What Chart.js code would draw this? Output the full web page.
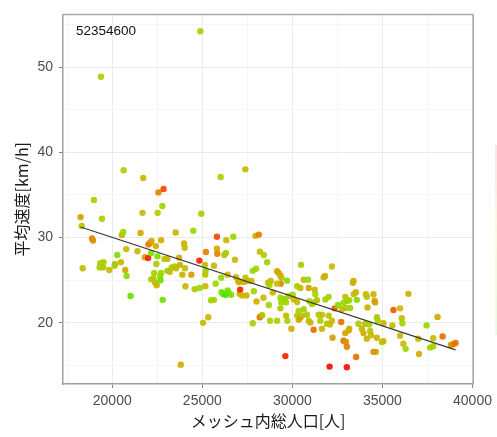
<!DOCTYPE html>
<html lang="ja">
<head>
<meta charset="utf-8">
<title>平均速度 vs メッシュ内総人口</title>
<script src="https://cdn.jsdelivr.net/npm/chart.js@4/dist/chart.umd.min.js"></script>
<style>
  html, body { margin: 0; padding: 0; background: #fff; }
  #wrap { width: 497px; height: 437px; position: relative; }
</style>
</head>
<body>
<div id="wrap"><canvas id="chart"></canvas></div>
<script>
/* ─── Data ─── */
const PANEL_LABEL = '52354600';
const X_TITLE = 'メッシュ内総人口[人]';
const Y_TITLE = '平均速度[km/h]';

const xMajorTicks = [20000, 25000, 30000, 35000, 40000];
const xMinorTicks = [17500, 22500, 27500, 32500, 37500];
const yMajorTicks = [20, 30, 40, 50];
const yMinorTicks = [15, 25, 35, 45, 55];

// population per mesh
const population = [
  24890, 19370, 20630, 21720, 27390, 26020, 18980, 22560, 22850, 22780, 21680, 22520, 24940, 18240, 19430,
  18303, 18358, 18875, 18930, 19336, 19520, 19300, 19500, 19834, 20130, 20150, 20277, 20480, 20535, 20610,
  20720, 20775, 20795, 21015, 21400, 21570, 21810, 21990, 22010, 22100, 22180, 22160, 22160, 22290, 22325,
  22380, 22470, 22420, 22450, 22510, 22660, 22675, 22710, 22800, 22710, 22900, 23060, 23060, 23190, 23300,
  23470, 23540, 23520, 23710, 23760, 23800, 23890, 23985, 24020, 24040, 24060, 24390, 24500, 24575, 24835,
  24850, 25040, 25150, 25165, 25185, 25165, 25200, 25330, 25480, 25650, 25650, 25740, 25810, 25810, 25830,
  26050, 26070, 26160, 26310, 26220, 26310, 26330, 26400, 26400, 26460, 26600, 26720, 26810, 26880, 26990,
  27030, 27070, 27100, 27510, 27300, 27200, 27400, 27450,
  27952, 28137, 28192, 28413, 28600, 27800, 27990, 27730, 27860, 28010, 28395, 28285, 27800, 28190, 28320,
  28650, 28727, 28800, 28690, 28910, 28760, 29150, 29240, 29335, 29390, 29350, 29150, 29150, 29335, 29390,
  29335, 29575, 29650, 29650, 29725, 29610, 29705, 29800, 30020, 29945, 30075, 30260, 30260, 30445, 30260,
  30350, 30445, 30535, 30350, 30480, 30630, 30630, 30810, 30905, 30995, 30870, 30905, 30940, 31090, 31180,
  31180, 31235, 31275, 31365, 31460, 31550, 31640, 31640, 31735, 31810, 31830, 31920, 32010, 32010, 32085,
  32195, 32195, 32230, 32345, 32530, 32710, 32750, 32840, 32935, 32970, 32935, 32840, 32970, 33025, 33120,
  33155, 33025, 32066, 33060, 33155, 33210, 33360, 33395, 33525, 33410, 33540, 33580, 33670, 33856, 33950,
  34040, 34130, 34080, 34130, 34170, 34260, 34320, 34370, 34500, 34560, 34595, 34500, 34630, 34690, 34740,
  34690, 34965, 35055, 35055, 35610, 35980, 36070, 36110, 35555, 35980, 36290, 36440, 36160, 36990, 37030,
  37450, 37640, 37820, 37820, 38060, 38340, 38800, 38930, 39060
];

// average speed [km/h]
const speed = [
  54.2, 48.85, 37.9, 37.0, 38.0, 37.1, 34.4, 35.3, 35.7, 33.7, 32.9, 32.9, 32.8, 32.4, 32.2,
  31.35, 26.4, 29.9, 29.65, 27.0, 27.1, 26.5, 26.5, 26.2, 26.7, 26.9, 27.96, 27.1, 30.3, 30.65,
  26.2, 28.65, 25.5, 23.15, 28.4, 30.55, 27.7, 27.6, 29.2, 29.4, 29.6, 28.2, 25.1, 25.2, 25.85,
  24.7, 24.4, 29.0, 26.9, 27.8, 25.5, 25.0, 25.85, 22.7, 29.7, 27.5, 27.5, 26.1, 26.0, 26.5,
  26.6, 26.4, 30.6, 27.65, 26.8, 15.1, 25.65, 29.3, 28.8, 26.4, 24.3, 25.65, 30.8, 23.95, 27.3,
  24.1, 20.0, 26.8, 25.65, 26.1, 24.3, 28.3, 20.65, 22.65, 22.7, 26.7, 24.6, 30.1, 28.7, 28.1,
  25.3, 23.6, 23.35, 23.3, 27.95, 28.2, 29.7, 25.65, 23.8, 23.5, 23.3, 30.1, 27.4, 25.35, 24.95,
  24.75, 23.4, 23.9, 24.9, 24.8, 23.2, 25.3, 23.2,
  30.2, 30.35, 28.35, 27.96, 27.1, 26.1, 26.35, 24.9, 23.7, 22.5, 22.95, 20.85, 19.95, 20.65, 20.9,
  24.7, 24.4, 24.9, 22.1, 23.55, 20.25, 26.05, 25.85, 25.55, 25.3, 24.6, 24.6, 20.25, 22.95, 22.4,
  21.7, 22.8, 22.4, 20.85, 20.25, 16.1, 24.95, 23.15, 23.3, 19.3, 22.75, 22.45, 24.3, 24.1, 20.85,
  20.35, 20.6, 20.85, 21.4, 26.8, 25.05, 21.6, 20.95, 20.25, 20.05, 25.05, 24.1, 22.55, 22.2, 22.35,
  19.2, 23.9, 23.35, 22.65, 20.95, 20.25, 20.95, 19.3, 25.35, 25.5, 22.75, 19.9, 20.85, 23.05, 19.8,
  26.6, 20.25, 18.25, 21.7, 22.1, 20.1, 21.6, 22.35, 23.05, 21.75, 18.8, 17.9, 17.75, 17.2, 19.1,
  19.3, 14.8, 14.87, 22.6, 22.65, 21.75, 24.7, 24.9, 23.6, 23.35, 16.0, 22.7, 19.9, 19.3, 18.8,
  19.9, 18.15, 23.35, 23.05, 21.8, 19.8, 19.05, 18.55, 23.35, 22.6, 22.4, 16.6, 16.6, 20.65, 20.25,
  18.25, 17.75, 17.85, 19.95, 21.5, 21.7, 20.55, 19.95, 19.7, 18.5, 16.95, 23.4, 17.55, 18.15, 16.35,
  19.7, 17.1, 17.25, 18.2, 20.7, 18.4, 17.4, 17.5, 17.65
];

// colour scale position (0 = green … 1 = red)
const colorLevel = [
  .3, .3, .3, .45, .45, .3, .3, .7, .85, .3, .45, .35, .3, .6, .3,
  .35, .45, .7, .65, .35, .3, .3, .35, .45, .3, .35, .2, .45, .5, .25,
  .55, .45, .2, .15, .45, .55, .6, .95, .7, .7, .55, .2, .3, .4, .3,
  .45, .5, .5, .35, .2, .25, .15, .3, .15, .5, .4, .45, .2, .45, .4,
  .3, .4, .5, .55, .5, .55, .5, .5, .45, .4, .45, .6, .25, .35, .95,
  .25, .45, .4, .4, .3, .45, .7, .45, .3, .3, .45, .25, .85, .55, .7,
  .25, .15, .15, .05, .4, .35, .45, .45, .2, .15, .2, .25, .45, .45, .45,
  .5, .5, .95, .45, .5, .45, .4, .5,
  .55, .7, .45, .3, .3, .25, .3, .45, .3, .5, .45, .5, .3, .75, .35,
  .4, .3, .45, .3, .45, .3, .55, .6, .5, .45, .7, .4, .3, .3, .25,
  .35, .2, .3, .45, .3, .95, .2, .45, .25, .5, .45, .45, .3, .45, .3,
  .55, .6, .4, .3, .35, .45, .3, .35, .4, .45, .25, .6, .3, .4, .3,
  .75, .45, .3, .35, .4, .35, .4, .45, .5, .5, .3, .35, .4, .3, .45,
  .45, .45, .6, .8, .2, .75, .45, .3, .45, .35, .6, .75, .65, .7, .55,
  .5, 1.0, 1.0, .2, .3, .3, .55, .5, .5, .45, .75, .2, .35, .5, .55,
  .4, .5, .45, .4, .5, .3, .35, .45, .5, .55, .6, .65, .6, .35, .3,
  .5, .3, .45, .5, .8, .45, .45, .3, .45, .45, .3, .5, .45, .45, .5,
  .25, .3, .3, .45, .55, .75, .6, .7, .75
];

// linear fit (ends of the drawn line)
const fitX = [18240, 39060];
const fitY = [31.24, 16.83];

/* ─── Colour scale ─── */
const STOPS = [
  [0.00, [ 40, 235,   0]],
  [0.25, [150, 218,   0]],
  [0.45, [200, 184,   0]],
  [0.60, [214, 160,   0]],
  [0.75, [236, 112,   0]],
  [0.90, [250,  55,   0]],
  [1.00, [255,  12,   0]],
];
function levelColor(t) {
  for (let i = 1; i < STOPS.length; i++) {
    const [t1, c1] = STOPS[i];
    const [t0, c0] = STOPS[i - 1];
    if (t <= t1) {
      const f = (t - t0) / (t1 - t0);
      const c = c0.map((v, k) => Math.round(v + (c1[k] - v) * f));
      return `rgba(${c[0]},${c[1]},${c[2]},0.92)`;
    }
  }
  return 'rgb(255,12,0)';
}

const points = population.map((x, i) => ({ x, y: speed[i] }));
const pointColors = colorLevel.map(levelColor);
const fitLine = fitX.map((x, i) => ({ x, y: fitY[i] }));

/* ─── Extras: panel border, panel label, clipped colour bar ─── */
const extrasPlugin = {
  id: 'extras',
  afterDraw(chart) {
    const { ctx, chartArea: a } = chart;
    ctx.save();
    ctx.strokeStyle = '#a8a8a8';
    ctx.lineWidth = 1.5;
    ctx.beginPath();
    ctx.moveTo(a.left, a.top);
    ctx.lineTo(a.right, a.top);
    ctx.lineTo(a.right, a.bottom);
    ctx.stroke();

    ctx.fillStyle = '#111';
    ctx.font = '13.5px "Liberation Sans", Arial, sans-serif';
    ctx.textBaseline = 'middle';
    ctx.textAlign = 'left';
    ctx.fillText(PANEL_LABEL, a.left + 13, a.top + 17);

    const g = ctx.createLinearGradient(0, 145, 0, 335);
    g.addColorStop(0, 'rgba(255,60,60,0.14)');
    g.addColorStop(0.5, 'rgba(240,220,60,0.14)');
    g.addColorStop(1, 'rgba(80,240,60,0.14)');
    ctx.fillStyle = g;
    ctx.fillRect(495, 145, 2, 190);
    ctx.restore();
  }
};

const TICK_FONT = { family: '"Liberation Sans", Arial, sans-serif', size: 14 };
const TITLE_FONT = { family: '"Noto Sans CJK JP", "Noto Sans", sans-serif', size: 16 };

const isMajorX = v => xMajorTicks.includes(v);
const isMajorY = v => yMajorTicks.includes(v);

new Chart(document.getElementById('chart'), {
  type: 'scatter',
  data: {
    datasets: [
      {
        label: 'fit',
        data: fitLine,
        showLine: true,
        borderColor: '#3a3a3a',
        borderWidth: 1.3,
        pointRadius: 0,
        order: 0,
      },
      {
        label: 'mesh',
        data: points,
        backgroundColor: pointColors,
        borderWidth: 0,
        pointRadius: 3.2,
        order: 1,
      },
    ]
  },
  options: {
    responsive: true,
    maintainAspectRatio: false,
    animation: false,
    layout: { padding: { top: 9, right: 22, left: 0, bottom: 0 } },
    plugins: { legend: { display: false }, tooltip: { enabled: false } },
    scales: {
      x: {
        type: 'linear',
        min: 17265,
        max: 40035,
        afterBuildTicks: s => { s.ticks = [...xMinorTicks, ...xMajorTicks].sort((a, b) => a - b).map(value => ({ value })); },
        afterFit: s => { s.height = 53; },
        ticks: {
          autoSkip: false,
          maxRotation: 0,
          padding: 5,
          color: '#4d4d4d',
          font: TICK_FONT,
          callback: v => isMajorX(v) ? String(v) : '',
        },
        grid: {
          color: c => c.tick && isMajorX(c.tick.value) ? '#ebebeb' : '#f5f5f5',
          tickColor: c => c.tick && isMajorX(c.tick.value) ? '#7f7f7f' : 'rgba(0,0,0,0)',
          tickLength: 4,
          lineWidth: 1,
        },
        border: { display: true, color: '#a0a0a0', width: 1.5 },
        title: {
          display: true,
          text: X_TITLE,
          color: '#1a1a1a',
          font: TITLE_FONT,
          padding: { top: 0, bottom: 6 },
        },
      },
      y: {
        type: 'linear',
        min: 12.83,
        max: 56.17,
        afterBuildTicks: s => { s.ticks = [...yMinorTicks, ...yMajorTicks].sort((a, b) => a - b).map(value => ({ value })); },
        afterFit: s => { s.width = 63; },
        ticks: {
          autoSkip: false,
          padding: 6,
          color: '#4d4d4d',
          font: TICK_FONT,
          callback: v => isMajorY(v) ? String(v) : '',
        },
        grid: {
          color: c => c.tick && isMajorY(c.tick.value) ? '#ebebeb' : '#f5f5f5',
          tickColor: c => c.tick && isMajorY(c.tick.value) ? '#7f7f7f' : 'rgba(0,0,0,0)',
          tickLength: 4,
          lineWidth: 1,
        },
        border: { display: true, color: '#a0a0a0', width: 1.5 },
        title: {
          display: true,
          text: Y_TITLE,
          color: '#1a1a1a',
          font: TITLE_FONT,
          padding: { top: 12, bottom: 0 },
        },
      },
    },
  },
  plugins: [extrasPlugin],
});
</script>
</body>
</html>
